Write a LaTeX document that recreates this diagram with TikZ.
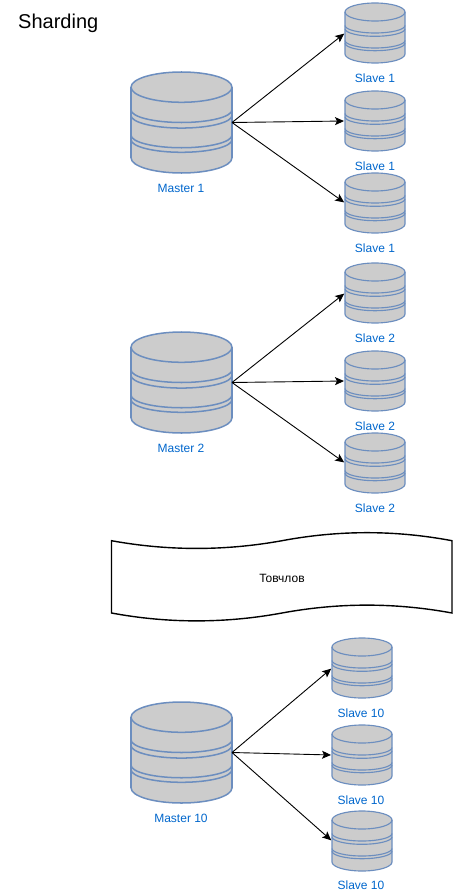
\documentclass[tikz,border=0pt]{standalone}
\usepackage{fontspec}
\setmainfont{Liberation Sans}
\usetikzlibrary{arrows.meta}
\definecolor{dbstroke}{HTML}{6C8EBF}
\definecolor{dbfill}{HTML}{CCCCCC}
\definecolor{dblabel}{HTML}{0066CC}
\tikzset{
  dbanchor/.style={minimum width=#1,minimum height=#1,inner sep=0pt,outer sep=0pt},
  dbline/.style={draw=dbstroke,line width=#1},
  lbl/.style={text=dblabel,font=\fontsize{12}{14}\selectfont,inner sep=0pt},
  link/.style={draw=black,line width=.9pt,shorten >=1pt,-{Stealth[length=9pt,width=8pt,inset=2pt]}},
}
% name, centre x, top y, size
\newcommand{\dbshape}[4]{%
  \pgfmathsetmacro{\hw}{#4/2}
  \pgfmathsetmacro{\ry}{#4*0.15}
  \pgfmathsetmacro{\rb}{#4*0.125}
  \pgfmathsetmacro{\lw}{0.6+#4*0.009}
  \pgfmathsetmacro{\cyl}{#2-\hw}
  \pgfmathsetmacro{\cyr}{#2+\hw}
  \pgfmathsetmacro{\mt}{#3+\ry}
  \pgfmathsetmacro{\mb}{#3+#4-\ry}
  \pgfmathsetmacro{\ka}{#3+#4*0.375}
  \pgfmathsetmacro{\kb}{#3+#4*0.43}
  \pgfmathsetmacro{\kc}{#3+#4*0.625}
  \pgfmathsetmacro{\kd}{#3+#4*0.67}
  \node[dbanchor=#4 pt] (#1) at (#2,#3+#4/2) {};
  \path[dbline=\lw pt,fill=dbfill] (\cyl,\mt) arc[start angle=180,end angle=360,x radius=\hw,y radius=\ry]
     -- (\cyr,\mb) arc[start angle=0,end angle=180,x radius=\hw,y radius=\ry] -- cycle;
  \draw[dbline=\lw pt] (\cyl,\mt) arc[start angle=180,end angle=0,x radius=\hw,y radius=\ry];
  \foreach \k in {\ka,\kb,\kc,\kd}{
    \draw[dbline=\lw pt] (\cyl,\k) arc[start angle=180,end angle=0,x radius=\hw,y radius=\rb];
  }
}
\begin{document}
\begin{tikzpicture}[x=1pt,y=-1pt]
\useasboundingbox (0,0) rectangle (454,891);
\node[font=\fontsize{20}{24}\selectfont,anchor=west,inner sep=0pt] (title) at (18,23) {Sharding};

\dbshape{m1}{181.5}{72}{101}
\dbshape{m2}{181.5}{332}{101}
\dbshape{m3}{181.5}{702}{101}
\dbshape{s11}{375}{3}{60}
\dbshape{s12}{375}{91}{60}
\dbshape{s13}{375}{173}{60}
\dbshape{s21}{375}{263}{60}
\dbshape{s22}{375}{351}{60}
\dbshape{s23}{375}{433}{60}
\dbshape{s31}{362}{638}{60}
\dbshape{s32}{362}{725}{60}
\dbshape{s33}{362}{811}{60}

\node[lbl] (lm1) at (181,188) {Master 1};
\node[lbl] (lm2) at (181,448) {Master 2};
\node[lbl] (lm3) at (181,818) {Master 10};
\node[lbl] (l11) at (375,78) {Slave 1};
\node[lbl] (l12) at (375,166) {Slave 1};
\node[lbl] (l13) at (375,248) {Slave 1};
\node[lbl] (l21) at (375,338) {Slave 2};
\node[lbl] (l22) at (375,426) {Slave 2};
\node[lbl] (l23) at (375,508) {Slave 2};
\node[lbl] (l31) at (361,713) {Slave 10};
\node[lbl] (l32) at (361,800) {Slave 10};
\node[lbl] (l33) at (361,885) {Slave 10};

\foreach \m/\s in {m1/s11,m1/s12,m1/s13,m2/s21,m2/s22,m2/s23,m3/s31,m3/s32,m3/s33}{
  \draw[link] (\m.east) -- (\s.west);
}

\draw[line width=1.4pt,fill=white] (111.5,540.7)
  .. controls (168,551) and (225,551) .. (282,540.7)
  .. controls (339,530) and (395,530) .. (452,540.7)
  -- (452,613)
  .. controls (395,602.5) and (339,602.5) .. (282,613)
  .. controls (225,623.5) and (168,623.5) .. (111.5,613) -- cycle;
\node[font=\fontsize{12}{14}\selectfont,inner sep=0pt] (tape) at (282,578) {Товчлов};
\end{tikzpicture}
\end{document}
